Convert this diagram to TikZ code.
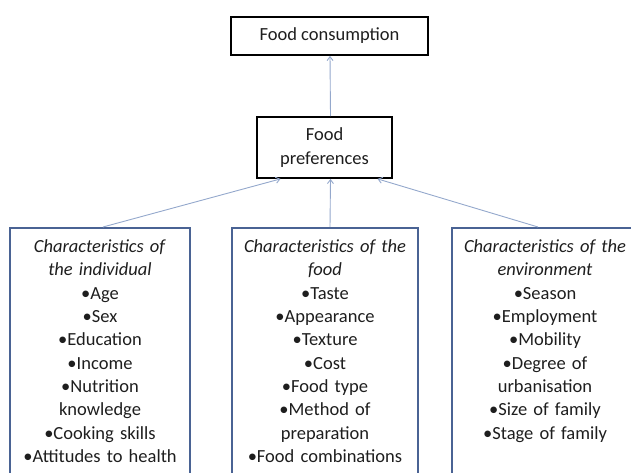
\documentclass[tikz,border=0pt]{standalone}
\usepackage{fontspec}
\setmainfont{Carlito}
\usetikzlibrary{arrows.meta}
\definecolor{frameblue}{HTML}{4A6394}
\definecolor{arrowblue}{HTML}{94A8CC}
\definecolor{inkgrey}{HTML}{1E1E1E}
\begin{document}
\begin{tikzpicture}[x=1pt, y=-1pt,
        topbox/.style={rectangle, draw=black, line width=1.8pt, fill=white, align=center, text=inkgrey, font=\fontsize{18.5}{23.3}\selectfont},
        factbox/.style={rectangle, draw=frameblue, line width=1.6pt, anchor=north, align=center, text=inkgrey, inner xsep=4pt, inner ysep=12pt, text depth=220pt, font=\fontsize{18.5}{23.3}\selectfont},
        conn/.style={draw=arrowblue, line width=0.9pt, -{Straight Barb[length=4pt, width=6pt]}},
        ]
        % Page frame, lower boxes run off the edge
        \useasboundingbox (0,0) rectangle (631,473);
        \clip (0,0) rectangle (631,473);

        % Outcome and preference boxes
        \node[topbox, minimum width=197pt, minimum height=38pt] (cons) at (329.5,36) {Food consumption};
        \node[topbox, minimum width=135pt, minimum height=61pt] (pref) at (324.5,147.5) {Food\\preferences};

        % Three groups of characteristics
        \node[factbox, text width=172pt] (indiv) at (100,227) {\textit{Characteristics of}\\ \textit{the individual}\\ •Age\\ •Sex\\ •Education\\ •Income\\ •Nutrition\\ knowledge\\ •Cooking skills\\ •Attitudes to health};
        \node[factbox, text width=178pt] (food) at (325,227) {\textit{Characteristics of the}\\ \textit{food}\\ •Taste\\ •Appearance\\ •Texture\\ •Cost\\ •Food type\\ •Method of\\ preparation\\ •Food combinations};
        \node[factbox, text width=178pt] (env) at (545,227) {\textit{Characteristics of the}\\ \textit{environment}\\ •Season\\ •Employment\\ •Mobility\\ •Degree of\\ urbanisation\\ •Size of family\\ •Stage of family};

        % Influences
        \draw[conn] ([xshift=3pt]indiv.north) -- ([xshift=-44pt]pref.south);
        \draw[conn] ([xshift=5pt]food.north) -- ([xshift=6pt]pref.south);
        \draw[conn] ([xshift=-7pt]env.north) -- ([xshift=53pt]pref.south);
        \draw[conn] ([xshift=6pt]pref.north) -- ([xshift=0.5pt]cons.south);

    \end{tikzpicture}
\end{document}
